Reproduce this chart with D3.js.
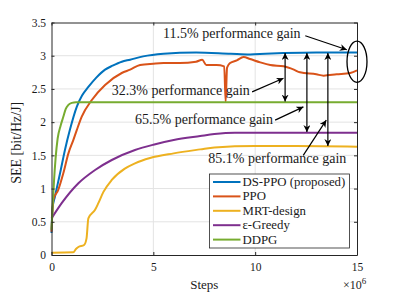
<!DOCTYPE html>
<html>
<head>
<meta charset="utf-8">
<style>
  body { margin: 0; background: #fff; }
  svg text { font-family: "Liberation Serif", "Times New Roman", serif; fill: #1a1a1a; }
  .grid line { stroke: #e3e3e3; stroke-width: 1; }
  .curve { fill: none; stroke-width: 2; stroke-linejoin: round; }
</style>
<script src="https://d3js.org/d3.v7.min.js"></script>
</head>
<body>
<script>
  // x values are in units of 10^6 steps
  var dsppoX = [0, 0.05, 0.17, 0.42, 0.66, 0.9, 1.24, 1.5, 1.81, 2.2, 2.63, 3.0, 3.45, 3.86, 4.5, 5.5, 7.1, 8.8, 9.75, 10.5, 11.4, 13, 15];
  var dsppoY = [0.33, 0.7, 0.88, 1.23, 1.58, 1.88, 2.23, 2.4, 2.53, 2.67, 2.79, 2.85, 2.91, 2.94, 2.99, 3.03, 3.05, 3.03, 3.02, 3.03, 3.04, 3.05, 3.05];

  var ppoX = [0, 0.09, 0.33, 0.58, 0.83, 1.07, 1.24, 1.48, 1.97, 2.63, 3.45, 3.86, 4.35, 5.0, 5.5, 6.3, 7.1, 7.4, 7.6, 8.1, 8.48, 8.55, 8.62, 8.77, 9.1, 9.43, 9.75, 10.25, 10.74, 11.4, 11.9, 12.2, 13.0, 13.36, 14.0, 14.67, 15];
  var ppoY = [0.35, 0.83, 0.98, 1.23, 1.53, 1.73, 1.88, 2.08, 2.33, 2.56, 2.74, 2.79, 2.86, 2.88, 2.89, 2.89, 2.91, 2.94, 2.86, 2.86, 2.84, 2.31, 2.82, 2.89, 2.93, 2.98, 2.95, 2.9, 2.86, 2.84, 2.79, 2.75, 2.72, 2.70, 2.72, 2.74, 2.78];

  var mrtX = [0, 1.07, 1.2, 1.32, 1.6, 1.72, 1.81, 2.14, 2.3, 2.55, 2.96, 3.6, 4.1, 4.84, 6, 7.3, 8, 10, 12, 15];
  var mrtY = [0.035, 0.04, 0.09, 0.12, 0.15, 0.25, 0.55, 0.68, 0.78, 0.95, 1.13, 1.3, 1.38, 1.46, 1.53, 1.59, 1.62, 1.64, 1.64, 1.63];

  var greedyX = [0, 0.5, 1.32, 2.14, 2.96, 4.1, 5, 6, 7.3, 8, 9, 10, 12, 15];
  var greedyY = [0.55, 0.78, 1.08, 1.28, 1.43, 1.58, 1.66, 1.73, 1.79, 1.82, 1.84, 1.84, 1.84, 1.84];

  var ddpgX = [0, 0.05, 0.12, 0.2, 0.3, 0.45, 0.58, 0.7, 0.83, 1.0, 1.2, 15];
  var ddpgY = [0.38, 0.7, 1.1, 1.45, 1.75, 1.95, 2.08, 2.2, 2.26, 2.29, 2.3, 2.3];

  var seriesNames = ["DS-PPO (proposed)", "PPO", "MRT-design", "\u03B5-Greedy", "DDPG"];
  var seriesColors = ["#0072BD", "#D95319", "#EDB120", "#7E2F8E", "#77AC30"];
  var seriesX = [dsppoX, ppoX, mrtX, greedyX, ddpgX];
  var seriesY = [dsppoY, ppoY, mrtY, greedyY, ddpgY];

  var xTicks = [0, 5, 10, 15];
  var yTicks = [0, 0.5, 1, 1.5, 2, 2.5, 3, 3.5];

  // gain labels: [text, x, baseline y]
  var gainLabels = [
    ["11.5% performance gain", 5.48, 3.26],
    ["32.3% performance gain", 2.96, 2.41],
    ["65.5% performance gain", 4.10, 1.97],
    ["85.1% performance gain", 7.70, 1.38]
  ];
  // pointer arrows: [x1, y1, x2, y2]
  var pointerArrows = [
    [12.46, 3.30, 14.5, 3.09],
    [9.85, 2.455, 11.39, 2.66],
    [10.98, 2.03, 12.37, 2.23],
    [12.36, 1.50, 13.49, 2.03]
  ];
  // double arrows: [x, y top, y bottom]
  var gapArrows = [
    [11.47, 3.04, 2.31],
    [12.54, 3.04, 1.85],
    [13.57, 3.04, 1.64]
  ];

  var width = 395, height = 296;
  var margin = { left: 51.5, top: 22.5, right: 38, bottom: 41 };

  var svg = d3.select("body").append("svg")
    .attr("width", width)
    .attr("height", height);

  var x = d3.scaleLinear().domain([0, 15]).range([margin.left, width - margin.right]);
  var y = d3.scaleLinear().domain([0, 3.5]).range([height - margin.bottom, margin.top]);

  var defs = svg.append("defs");
  defs.append("marker")
    .attr("id", "head")
    .attr("viewBox", "0 0 10 10")
    .attr("refX", 10).attr("refY", 5)
    .attr("markerWidth", 7).attr("markerHeight", 7)
    .attr("markerUnits", "userSpaceOnUse")
    .attr("orient", "auto-start-reverse")
    .append("path")
    .attr("d", "M0,0 L10,5 L0,10 L3,5 Z")
    .attr("fill", "#000");

  // grid
  var grid = svg.append("g").attr("class", "grid");
  grid.selectAll(".gx").data(xTicks.slice(1, -1)).enter().append("line")
    .attr("x1", d => x(d)).attr("x2", d => x(d))
    .attr("y1", y(0)).attr("y2", y(3.5));
  grid.selectAll(".gy").data(yTicks.slice(1, -1)).enter().append("line")
    .attr("y1", d => y(d)).attr("y2", d => y(d))
    .attr("x1", x(0)).attr("x2", x(15));

  // curves
  var line = d3.line()
    .x(d => x(d[0]))
    .y(d => y(d[1]))
    .curve(d3.curveMonotoneX);

  seriesX.forEach(function(xs, i) {
    var pts = xs.map((v, j) => [v, seriesY[i][j]]);
    svg.append("path")
      .attr("class", "curve")
      .attr("stroke", seriesColors[i])
      .attr("d", line(pts));
  });

  // axes (box with inward ticks)
  var tickLen = 3;
  var fmt = d => String(d);
  svg.append("g")
    .attr("transform", "translate(0," + y(0) + ")")
    .call(d3.axisBottom(x).tickValues(xTicks).tickFormat(fmt).tickSize(-tickLen).tickPadding(8).tickSizeOuter(0))
    .call(g => g.select(".domain").attr("stroke", "#262626"));
  svg.append("g")
    .attr("transform", "translate(0," + y(3.5) + ")")
    .call(d3.axisTop(x).tickValues(xTicks).tickSize(-tickLen).tickFormat("").tickSizeOuter(0))
    .call(g => g.select(".domain").attr("stroke", "#262626"));
  svg.append("g")
    .attr("transform", "translate(" + x(0) + ",0)")
    .call(d3.axisLeft(y).tickValues(yTicks).tickFormat(fmt).tickSize(-tickLen).tickPadding(5.5).tickSizeOuter(0))
    .call(g => g.select(".domain").attr("stroke", "#262626"));
  svg.append("g")
    .attr("transform", "translate(" + x(15) + ",0)")
    .call(d3.axisRight(y).tickValues(yTicks).tickSize(-tickLen).tickFormat("").tickSizeOuter(0))
    .call(g => g.select(".domain").attr("stroke", "#262626"));

  svg.selectAll(".tick line").attr("stroke", "#262626");
  svg.selectAll(".tick text")
    .style("font-family", "'Liberation Serif', serif")
    .style("font-size", "11.5px")
    .attr("fill", "#262626");

  // axis labels
  svg.append("text")
    .attr("x", (x(0) + x(15)) / 2).attr("y", 289)
    .attr("text-anchor", "middle")
    .style("font-size", "13px")
    .text("Steps");
  var exp = svg.append("text")
    .attr("x", 343).attr("y", 289)
    .style("font-size", "12px");
  exp.append("tspan").text("\u00D710");
  exp.append("tspan").attr("dy", -5).style("font-size", "9px").text("6");

  svg.append("text")
    .attr("transform", "translate(20.5," + ((y(0) + y(3.5)) / 2 + 4) + ") rotate(-90)")
    .attr("text-anchor", "middle")
    .style("font-size", "14px")
    .text("SEE [bit/Hz/J]");

  // annotations
  svg.selectAll(".gain").data(gainLabels).enter().append("text")
    .attr("x", d => x(d[1])).attr("y", d => y(d[2]))
    .style("font-size", "14px")
    .text(d => d[0]);

  svg.selectAll(".ptr").data(pointerArrows).enter().append("line")
    .attr("x1", d => x(d[0])).attr("y1", d => y(d[1]))
    .attr("x2", d => x(d[2])).attr("y2", d => y(d[3]))
    .attr("stroke", "#000").attr("stroke-width", 1.2)
    .attr("marker-end", "url(#head)");

  svg.selectAll(".gap").data(gapArrows).enter().append("line")
    .attr("x1", d => x(d[0])).attr("y1", d => y(d[1]))
    .attr("x2", d => x(d[0])).attr("y2", d => y(d[2]))
    .attr("stroke", "#000").attr("stroke-width", 1.2)
    .attr("marker-start", "url(#head)")
    .attr("marker-end", "url(#head)");

  svg.append("ellipse")
    .attr("cx", x(15)).attr("cy", y(2.91))
    .attr("rx", x(0.49) - x(0)).attr("ry", y(0) - y(0.31))
    .attr("fill", "none").attr("stroke", "#000").attr("stroke-width", 1.3);

  // legend
  var lgX = 209.5, lgY = 174, lgW = 140, lgH = 74;
  var legend = svg.append("g");
  legend.append("rect")
    .attr("x", lgX).attr("y", lgY).attr("width", lgW).attr("height", lgH)
    .attr("fill", "#fff").attr("stroke", "#262626").attr("stroke-width", 0.8);
  seriesNames.forEach(function(name, i) {
    var yy = lgY + 8 + i * 14.4;
    legend.append("line")
      .attr("x1", lgX + 3.5).attr("x2", lgX + 31)
      .attr("y1", yy).attr("y2", yy)
      .attr("stroke", seriesColors[i]).attr("stroke-width", 2);
    legend.append("text")
      .attr("x", lgX + 33).attr("y", yy + 4)
      .style("font-size", "12.8px")
      .text(name);
  });
</script>
</body>
</html>
